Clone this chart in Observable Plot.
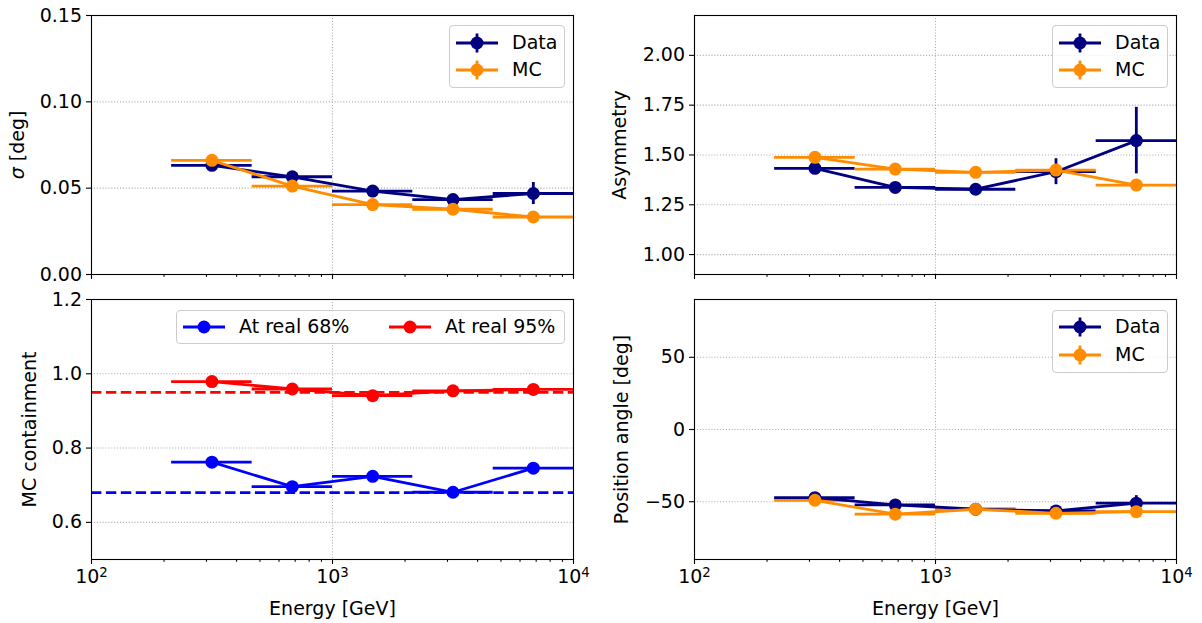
<!DOCTYPE html>
<html><head><meta charset="utf-8">
<script src="https://cdn.jsdelivr.net/npm/d3@7"></script>
<script src="https://cdn.jsdelivr.net/npm/@observablehq/plot@0.6"></script>
<style>
body{margin:0;background:#fff;}
#fig{position:relative;width:1202px;height:623px;font-family:"DejaVu Sans",sans-serif;background:#fff;overflow:hidden;}
.panel{position:absolute;}
.legend{position:absolute;box-sizing:border-box;border:1px solid #cccccc;border-radius:4px;background:rgba(255,255,255,0.8);font-size:19px;color:#000;}
.legend .item{position:absolute;white-space:nowrap;line-height:1;}
.legend svg{position:absolute;overflow:visible;}
</style></head><body><div id="fig"></div>
<script>
// ---------- data ----------
const energy = [316, 681, 1468, 3162, 6813];          // bin centres [GeV]
const binLo  = [215, 464, 1000, 2154, 4642];
const binHi  = [464, 1000, 2154, 4642, 10000];

const sigmaData    = [0.0632, 0.0566, 0.0483, 0.0434, 0.0469];
const sigmaDataErr = [0.0012, 0.0012, 0.0012, 0.0012, 0.0064];
const sigmaMC      = [0.0661, 0.0512, 0.0405, 0.0378, 0.0333];
const sigmaMCErr   = [0.0004, 0.0004, 0.0004, 0.0004, 0.0004];

const asymData    = [1.433, 1.337, 1.328, 1.416, 1.572];
const asymDataErr = [0.015, 0.012, 0.022, 0.065, 0.167];
const asymMC      = [1.488, 1.429, 1.413, 1.424, 1.349];
const asymMCErr   = [0.005, 0.004, 0.004, 0.004, 0.005];

const cont68 = [0.762, 0.696, 0.724, 0.681, 0.746];
const cont95 = [0.979, 0.959, 0.941, 0.954, 0.958];
const refLevels = [0.68, 0.95];

const paData    = [-47.2, -52.2, -55.2, -56.4, -51.0];
const paDataErr = [1.5, 1.5, 1.2, 1.5, 5.2];
const paMC      = [-49.0, -58.6, -55.2, -58.0, -56.9];
const paMCErr   = [0.5, 0.5, 0.5, 0.5, 0.5];

const xMajor = [100, 1000, 10000];
const xMinor = [200, 300, 400, 500, 600, 700, 800, 900, 2000, 3000, 4000, 5000, 6000, 7000, 8000, 9000];

const sigmaTicks = [0, 0.05, 0.10, 0.15];
const asymTicks  = [1.00, 1.25, 1.50, 1.75, 2.00];
const contTicks  = [0.6, 0.8, 1.0, 1.2];
const paTicks    = [-50, 0, 50];

const NAVY = "#000080", ORANGE = "#ff8c00", BLUE = "#0000ff", RED = "#ff0000";
const LW = 2.8, R = 6.5, FS = 19;

function rows(vals, errs) {
  return energy.map((e, i) => ({e, lo: binLo[i], hi: binHi[i], v: vals[i], err: errs ? errs[i] : 0}));
}
function bars(data, color, withErr) {
  const m = [Plot.ruleY(data, {x1: "lo", x2: "hi", y: "v", stroke: color, strokeWidth: LW})];
  if (withErr) m.push(Plot.ruleX(data, {x: "e", y1: d => d.v - d.err, y2: d => d.v + d.err, stroke: color, strokeWidth: LW}));
  return m;
}
function curve(data, color) {
  return [
    Plot.line(data, {x: "e", y: "v", stroke: color, strokeWidth: LW}),
    Plot.dot(data, {x: "e", y: "v", r: R, fill: color, stroke: "none"})
  ];
}

const fig = document.getElementById("fig");
const gridStyle = {stroke: "#b0b0b0", strokeOpacity: 1, strokeWidth: 1.1, strokeDasharray: "1.1,1.8"};

function panel({left, top, width, height, mt, mb, ml, mr, yDomain, yTicks, yFmt, showX, ylabel, yLabelDx, marks}) {
  const p = Plot.plot({
    width, height, marginTop: mt, marginBottom: mb, marginLeft: ml, marginRight: mr,
    style: {fontFamily: '"DejaVu Sans", sans-serif', fontSize: FS + "px", color: "black", background: "white", overflow: "visible"},
    x: {type: "log", domain: [100, 10000]},
    y: {domain: yDomain},
    marks: [
      Plot.gridY(yTicks, gridStyle),
      Plot.gridX(xMajor, gridStyle),
      ...marks,
      Plot.frame({stroke: "black", strokeWidth: 1.1}),
      Plot.axisY(yTicks, {tickSize: 5, tickPadding: 4.5, tickFormat: yFmt, label: null, strokeWidth: 1.1}),
      Plot.axisX(xMajor, {tickSize: 5, tickPadding: 4.5, label: null, strokeWidth: 1.1,
        tickFormat: showX ? (d => "10^" + Math.round(Math.log10(d))) : (() => "")}),
      Plot.axisX(xMinor, {tickSize: 2.8, label: null, strokeWidth: 1.1, tickFormat: () => ""}),
      Plot.text([ylabel], {frameAnchor: "left", text: d => d, rotate: -90, dx: yLabelDx, lineAnchor: "middle", textAnchor: "middle", fontSize: FS}),
      showX ? Plot.text(["Energy [GeV]"], {frameAnchor: "bottom", text: d => d, dy: 49, lineAnchor: "middle", textAnchor: "middle", fontSize: FS}) : null
    ]
  });
  // mathtext-like superscripts and italic sigma
  p.querySelectorAll("text").forEach(t => {
    const m = /^10\^(\d)$/.exec(t.textContent);
    if (m) {
      t.textContent = "10";
      const ts = document.createElementNS("http://www.w3.org/2000/svg", "tspan");
      ts.setAttribute("dy", "-0.45em");
      ts.setAttribute("font-size", "0.7em");
      ts.textContent = m[1];
      t.appendChild(ts);
    } else if (t.textContent === "σ [deg]") {
      t.textContent = "";
      const a = document.createElementNS("http://www.w3.org/2000/svg", "tspan");
      a.setAttribute("font-style", "italic");
      a.textContent = "σ";
      const b = document.createElementNS("http://www.w3.org/2000/svg", "tspan");
      b.textContent = " [deg]";
      t.appendChild(a); t.appendChild(b);
    }
  });
  const div = document.createElement("div");
  div.className = "panel";
  div.style.left = left + "px";
  div.style.top = top + "px";
  div.appendChild(p);
  fig.appendChild(div);
}

function legend(box, items) {
  const d = document.createElement("div");
  d.className = "legend";
  Object.assign(d.style, {left: box.left + "px", top: box.top + "px", width: box.width + "px", height: box.height + "px"});
  items.forEach(it => {
    const svg = document.createElementNS("http://www.w3.org/2000/svg", "svg");
    svg.setAttribute("width", 42); svg.setAttribute("height", 24);
    svg.style.left = it.hx + "px"; svg.style.top = (it.cy - 12) + "px";
    let s = `<line x1="0" x2="42" y1="12" y2="12" stroke="${it.color}" stroke-width="${LW}"/>`;
    if (it.err) s += `<line x1="21" x2="21" y1="2.5" y2="21.5" stroke="${it.color}" stroke-width="${LW}"/>`;
    s += `<circle cx="21" cy="12" r="${R}" fill="${it.color}"/>`;
    svg.innerHTML = s;
    d.appendChild(svg);
    const t = document.createElement("div");
    t.className = "item";
    t.textContent = it.label;
    t.style.left = it.tx + "px";
    t.style.top = (it.cy - 10) + "px";
    d.appendChild(t);
  });
  fig.appendChild(d);
}

const fmt2 = d3.format(".2f"), fmt1 = d3.format(".1f"), fmt0 = d3.format("d");

// top-left: sigma
{
  const D = rows(sigmaData, sigmaDataErr), M = rows(sigmaMC, sigmaMCErr);
  panel({left: 0, top: 0, width: 600, height: 290, mt: 15, mb: 16, ml: 91, mr: 27,
    yDomain: [0, 0.15], yTicks: sigmaTicks, yFmt: fmt2, showX: false, ylabel: "σ [deg]", yLabelDx: -74,
    marks: [...bars(D, NAVY, true), ...bars(M, ORANGE, true), ...curve(D, NAVY), ...curve(M, ORANGE)]});
}
// top-right: asymmetry
{
  const D = rows(asymData, asymDataErr), M = rows(asymMC, asymMCErr);
  panel({left: 600, top: 0, width: 602, height: 290, mt: 15, mb: 16, ml: 94, mr: 26,
    yDomain: [0.9, 2.2], yTicks: asymTicks, yFmt: fmt2, showX: false, ylabel: "Asymmetry", yLabelDx: -75,
    marks: [...bars(D, NAVY, true), ...bars(M, ORANGE, true), ...curve(D, NAVY), ...curve(M, ORANGE)]});
}
// bottom-left: containment
{
  const B = rows(cont68), Rr = rows(cont95);
  panel({left: 0, top: 285, width: 600, height: 338, mt: 14, mb: 64, ml: 91, mr: 27,
    yDomain: [0.5, 1.2], yTicks: contTicks, yFmt: fmt1, showX: true, ylabel: "MC containment", yLabelDx: -62,
    marks: [
      Plot.ruleY([refLevels[0]], {stroke: BLUE, strokeWidth: LW, strokeDasharray: "10.4,4.5"}),
      Plot.ruleY([refLevels[1]], {stroke: RED, strokeWidth: LW, strokeDasharray: "10.4,4.5"}),
      ...bars(B, BLUE, false), ...bars(Rr, RED, false), ...curve(B, BLUE), ...curve(Rr, RED)]});
}
// bottom-right: position angle
{
  const D = rows(paData, paDataErr), M = rows(paMC, paMCErr);
  panel({left: 600, top: 285, width: 602, height: 338, mt: 14, mb: 64, ml: 94, mr: 26,
    yDomain: [-90, 90], yTicks: paTicks, yFmt: fmt0, showX: true, ylabel: "Position angle [deg]", yLabelDx: -73,
    marks: [...bars(D, NAVY, true), ...bars(M, ORANGE, true), ...curve(D, NAVY), ...curve(M, ORANGE)]});
}

// legends
legend({left: 449, top: 25, width: 116, height: 63}, [
  {label: "Data", color: NAVY, err: true, hx: 6, tx: 62, cy: 16.7},
  {label: "MC", color: ORANGE, err: true, hx: 6, tx: 62, cy: 44.3}]);
legend({left: 1052, top: 25, width: 116, height: 63}, [
  {label: "Data", color: NAVY, err: true, hx: 6, tx: 62, cy: 16.7},
  {label: "MC", color: ORANGE, err: true, hx: 6, tx: 62, cy: 44.3}]);
legend({left: 1052, top: 310, width: 116, height: 63}, [
  {label: "Data", color: NAVY, err: true, hx: 6, tx: 62, cy: 15.7},
  {label: "MC", color: ORANGE, err: true, hx: 6, tx: 62, cy: 44}]);
legend({left: 176, top: 310, width: 389, height: 34}, [
  {label: "At real 68%", color: BLUE, err: false, hx: 6, tx: 62, cy: 15.7},
  {label: "At real 95%", color: RED, err: false, hx: 212, tx: 268, cy: 15.7}]);
</script></body></html>
